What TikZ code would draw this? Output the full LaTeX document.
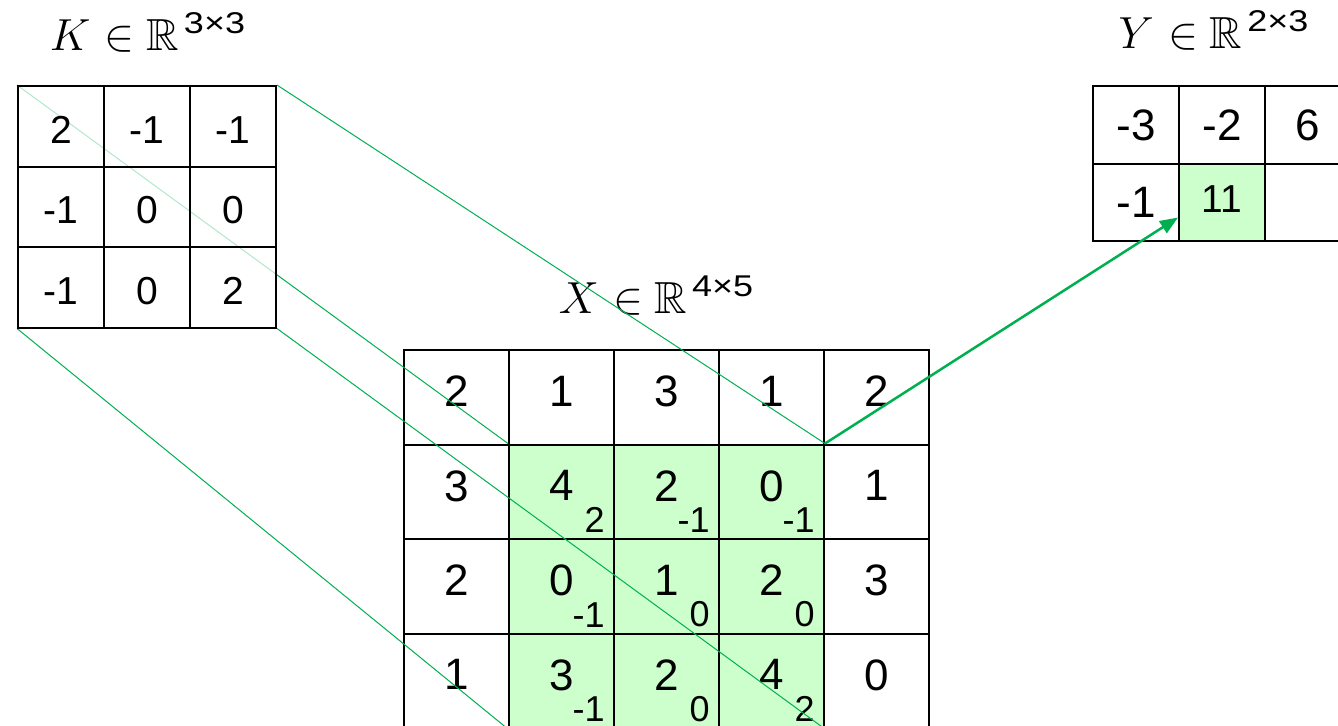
\documentclass[tikz,border=0pt]{standalone}
\usepackage{fontspec}
\setsansfont{Liberation Sans}
\usepackage{amssymb}
\usepackage{tikz}
\usetikzlibrary{arrows.meta,positioning,backgrounds}
\definecolor{pptgreen}{HTML}{00B050}
\definecolor{cellgreen}{HTML}{CCFFCC}
\pgfdeclarelayer{front}
\pgfsetlayers{background,main,front}
\newcommand{\setlabel}[3]{{\LARGE\scalebox{1.3}{$#1$\hspace{5.5pt}$\in$\hspace{4.5pt}$\mathbb{R}$}}\hspace{2.5pt}\raisebox{8.5pt}{\sffamily\fontsize{15}{15}\selectfont\scalebox{1.2}[1]{#2×#3}}}

\begin{document}
\begin{tikzpicture}[x=0.5pt, y=-0.5pt,
		cell/.style={draw, line width=1pt, inner sep=0pt, font=\sffamily\fontsize{22}{22}\selectfont},
		xcell/.style={cell, minimum width=52.5pt, minimum height=47.25pt, text depth=6pt},
		kcell/.style={cell, minimum width=43pt, minimum height=40.25pt, text height=17pt, text depth=0pt, font=\sffamily\fontsize{19.5}{19.5}\selectfont, fill=white, fill opacity=0.7, text opacity=1, draw opacity=1},
		ycell/.style={cell, minimum width=43pt, minimum height=38.75pt},
		sub/.style={anchor=south east, inner sep=0pt, xshift=-5pt, yshift=3.5pt, font=\sffamily\fontsize{18}{18}\selectfont},
		link/.style={draw=pptgreen, line width=0.5pt},
		result/.style={draw=pptgreen, line width=1.25pt, -{Triangle[length=9pt, width=7pt]}}
		]
		\useasboundingbox (0,0) rectangle (1338,725);
		\clip (0,0) rectangle (1338,725);
		% labels
		\node[anchor=base] (klabel) at (147.5,50) {\setlabel{K}{3}{3}};
		\node[anchor=base] (xlabel) at (656,313) {\setlabel{X}{4}{5}};
		\node[anchor=base] (ylabel) at (1213.5,48) {\setlabel{Y}{2}{3}};
		% input X
		\foreach \r/\vals in {1/{2,1,3,1,2}, 2/{3,4,2,0,1}, 3/{2,0,1,2,3}, 4/{1,3,2,4,0}} {
			\foreach \v [count=\c] in \vals {
				\node[xcell] (x-\r-\c) at ({351.5+105*\c},{302.75+94.5*\r}) {\v};
			}
		}
		\begin{scope}[on background layer]
			\fill[cellgreen] (x-2-2.north west) rectangle (x-4-4.south east);
		\end{scope}
		\foreach \r/\vals in {2/{2,-1,-1}, 3/{-1,0,0}, 4/{-1,0,2}} {
			\foreach \v [count=\i] in \vals {
				\pgfmathtruncatemacro{\c}{\i+1}
				\node[sub] (s-\r-\c) at (x-\r-\c.south east) {\v};
			}
		}
		% kernel K
		\begin{pgfonlayer}{front}
			\foreach \r/\vals in {1/{2,-1,-1}, 2/{-1,0,0}, 3/{-1,0,2}} {
				\foreach \v [count=\c] in \vals {
					\node[kcell] (k-\r-\c) at ({-25+86*\c},{45.75+80.5*\r}) {\v};
				}
			}
		\end{pgfonlayer}
		% output Y
		\node[ycell] (y-1-1) at (1136,125) {-3};
		\node[ycell] (y-1-2) at (1222,125) {-2};
		\node[ycell] (y-1-3) at (1308,125) {6};
		\node[ycell] (y-2-1) at (1136,202.5) {-1};
		\node[ycell, fill=cellgreen, font=\sffamily\fontsize{19.5}{19.5}\selectfont, text depth=3pt] (y-2-2) at (1222,202.5) {11};
		\node[ycell] (y-2-3) at (1308,202.5) {};
		% projection of the window
		\draw[link] (k-1-1.north west) -- (x-2-2.north west);
		\draw[link] (k-1-3.north east) -- (x-2-4.north east);
		\draw[link] (k-3-1.south west) -- (x-4-2.south west);
		\draw[link] (k-3-3.south east) -- (x-4-4.south east);
		\draw[result] (x-2-4.north east) -- ([yshift=-7.5pt]y-2-2.west);
\end{tikzpicture}
\end{document}
